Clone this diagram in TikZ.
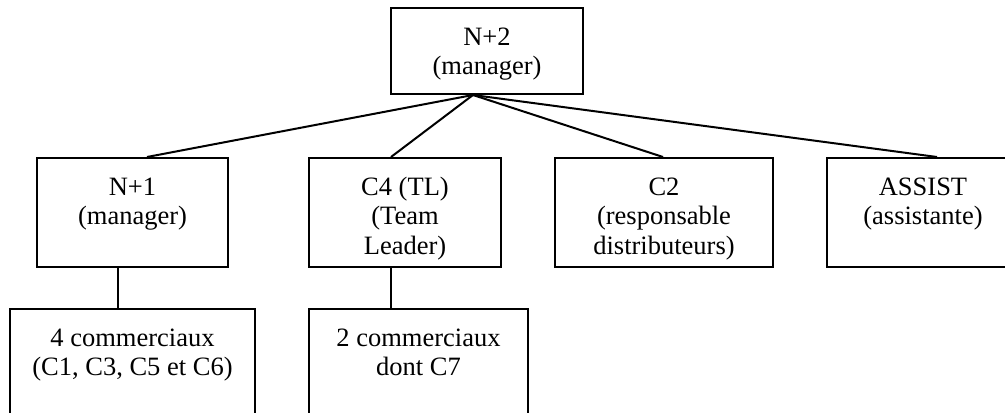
\documentclass[tikz,border=0pt]{standalone}
\usepackage{fontspec}
\setmainfont{Liberation Serif}
\newcommand{\bxt}[3]{\begin{minipage}[c][#2][t]{#1}\centering\rule{0pt}{18.5pt}#3\end{minipage}}
\begin{document}
\begin{tikzpicture}[x=0.5pt,y=-0.5pt,
  orgbox/.style={draw=black,line width=1pt,inner sep=0pt,anchor=north west,
    font=\fontsize{13.25pt}{14.75pt}\selectfont},
  link/.style={draw=black,line width=1pt}]
\useasboundingbox (0,0) rectangle (1005,412);
\clip (0,0) rectangle (1005,412);
\node[orgbox] (top) at (390,7) {\bxt{96pt}{43pt}{N+2\\(manager)}};
\node[orgbox] (n1) at (36,157) {\bxt{95.5pt}{54.5pt}{N+1\\(manager)}};
\node[orgbox] (c4) at (308,157) {\bxt{96pt}{54.5pt}{C4 (TL)\\(Team\\Leader)}};
\node[orgbox] (c2) at (554,157) {\bxt{109pt}{54.5pt}{C2\\(responsable\\distributeurs)}};
\node[orgbox] (as) at (826,157) {\bxt{96pt}{54.5pt}{ASSIST\\(assistante)}};
\node[orgbox] (b1) at (9,308) {\bxt{122.5pt}{70pt}{4 commerciaux\\(C1, C3, C5 et C6)}};
\node[orgbox] (b2) at (308,308) {\bxt{109.5pt}{70pt}{2 commerciaux\\dont C7}};
\coordinate (hub) at ([xshift=41.5pt]top.south west);
\draw[link] (hub) -- ([xshift=55.5pt]n1.north west);
\draw[link] (hub) -- ([xshift=41.5pt]c4.north west);
\draw[link] (hub) -- ([xshift=54.5pt]c2.north west);
\draw[link] (hub) -- ([xshift=55.5pt]as.north west);
\draw[link] ([xshift=41pt]n1.south west) -- ([xshift=41pt]n1.south west |- b1.north);
\draw[link] ([xshift=41.5pt]c4.south west) -- ([xshift=41.5pt]c4.south west |- b2.north);
\end{tikzpicture}
\end{document}
